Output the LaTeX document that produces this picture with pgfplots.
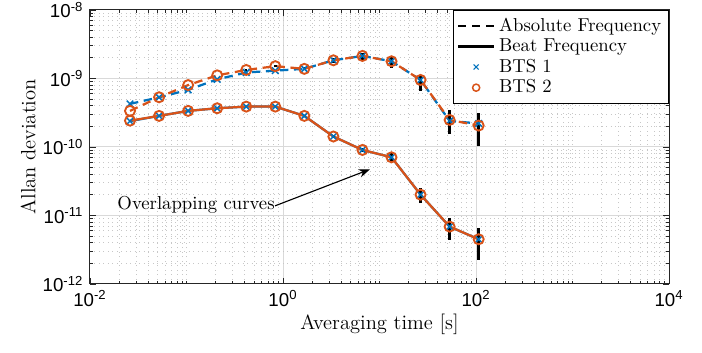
\documentclass[border=0pt]{standalone}
\usepackage{fontspec}
\usepackage{pgfplots}
\pgfplotsset{compat=1.18}
\usetikzlibrary{arrows.meta}
\newfontfamily\ticksf{Liberation Sans}
\definecolor{mblue}{rgb}{0,0.447,0.741}
\definecolor{morange}{rgb}{0.85,0.325,0.098}
\begin{document}
\begin{tikzpicture}
\begin{axis}[
  name=ax, scale only axis, width=309.6pt, height=146.5pt,
  xmode=log, ymode=log, xmin=1e-2, xmax=1e4, ymin=1e-12, ymax=1e-8,
  xtick={1e-2,1,1e2,1e4},
  xticklabels={10\textsuperscript{-2},10\textsuperscript{0},10\textsuperscript{2},10\textsuperscript{4}},
  ytick={1e-12,1e-11,1e-10,1e-9,1e-8},
  yticklabels={10\textsuperscript{-12},10\textsuperscript{-11},10\textsuperscript{-10},10\textsuperscript{-9},10\textsuperscript{-8}},
  minor xtick={0.02,0.03,0.04,0.05,0.06,0.07,0.08,0.09,0.1,0.2,0.3,0.4,0.5,0.6,0.7,0.8,0.9,2,3,4,5,6,7,8,9,10,20,30,40,50,60,70,80,90,200,300,400,500,600,700,800,900,1000,2000,3000,4000,5000,6000,7000,8000,9000},
  minor ytick={2e-12,3e-12,4e-12,5e-12,6e-12,7e-12,8e-12,9e-12,2e-11,3e-11,4e-11,5e-11,6e-11,7e-11,8e-11,9e-11,2e-10,3e-10,4e-10,5e-10,6e-10,7e-10,8e-10,9e-10,2e-9,3e-9,4e-9,5e-9,6e-9,7e-9,8e-9,9e-9},
  ticklabel style={font=\ticksf\fontsize{10}{12}\selectfont},
  grid=both,
  major grid style={black!15, line width=0.5pt},
  minor grid style={black!22, dotted, line width=0.4pt},
  axis line style={black!85, line width=0.5pt},
  major tick length=3pt, minor tick length=1.8pt,
  tick style={black!85, line width=0.4pt},
  xlabel={Averaging time [s]}, ylabel={Allan deviation},
  label style={font=\fontsize{11}{13}\selectfont},
  xlabel style={yshift=3pt},
  ylabel style={yshift=-3pt},
  legend style={at={(1,1)}, anchor=north east, font=\fontsize{10}{12}\selectfont,
    draw=black, line width=0.5pt, inner sep=2pt, row sep=-1.5pt},
  legend cell align=left,
  legend image code/.code={\draw[mark repeat=2,mark phase=2,#1] plot coordinates {(0cm,0cm) (0.34cm,0cm) (0.68cm,0cm)};},
]
\addlegendimage{black, line width=1.2pt, dash pattern=on 4.5pt off 3pt}
\addlegendentry{Absolute Frequency}
\addlegendimage{black, line width=1.2pt}
\addlegendentry{Beat Frequency}
\addlegendimage{only marks, mark=x, mblue, mark size=1.9pt, line width=0.6pt}
\addlegendentry{BTS 1}
\addlegendimage{only marks, mark=o, morange, mark size=1.9pt, line width=0.8pt}
\addlegendentry{BTS 2}

% Absolute frequency BTS 1
\addplot[forget plot, mblue, line width=1.2pt, dash pattern=on 4.5pt off 3pt, mark=x, mark size=2.5pt, mark options={solid, line width=0.8pt}] coordinates {
(0.026,4.25e-10) (0.052,5.3e-10) (0.104,6.8e-10) (0.208,9.7e-10) (0.416,1.22e-9) (0.832,1.30e-9) (1.664,1.38e-9) (3.328,1.84e-9) (6.656,2.13e-9) (13.312,1.78e-9) (26.624,9.5e-10) (53.248,2.4e-10) (106.5,2.2e-10)};
% Absolute frequency BTS 2
\addplot[forget plot, morange, line width=1.2pt, dash pattern=on 4.5pt off 3pt, mark=o, mark size=2.7pt, mark options={solid, line width=1pt}] coordinates {
(0.026,3.36e-10) (0.052,5.31e-10) (0.104,8.0e-10) (0.208,1.11e-9) (0.416,1.33e-9) (0.832,1.51e-9) (1.664,1.38e-9) (3.328,1.84e-9) (6.656,2.13e-9) (13.312,1.78e-9) (26.624,9.5e-10) (53.248,2.48e-10) (106.5,2.05e-10)};
% Beat frequency BTS 1
\addplot[forget plot, mblue, line width=1.2pt, mark=x, mark size=2.5pt, mark options={solid, line width=0.8pt}] coordinates {
(0.026,2.38e-10) (0.052,2.84e-10) (0.104,3.36e-10) (0.208,3.67e-10) (0.416,3.88e-10) (0.832,3.88e-10) (1.664,2.84e-10) (3.328,1.42e-10) (6.656,9.04e-11) (13.312,7.06e-11) (26.624,2.01e-11) (53.248,6.87e-12) (106.5,4.49e-12)};
% Beat frequency BTS 2
\addplot[forget plot, morange, line width=1.2pt, mark=o, mark size=2.7pt, mark options={solid, line width=1pt}] coordinates {
(0.026,2.42e-10) (0.052,2.84e-10) (0.104,3.36e-10) (0.208,3.67e-10) (0.416,3.88e-10) (0.832,3.88e-10) (1.664,2.84e-10) (3.328,1.42e-10) (6.656,9.04e-11) (13.312,7.06e-11) (26.624,2.01e-11) (53.248,6.87e-12) (106.5,4.49e-12)};
% error bars
\addplot[forget plot, black, line width=1.3pt, unbounded coords=jump] coordinates {
(0.416,1.28e-9) (0.416,1.38e-9) (0.416,nan)
(0.832,1.45e-9) (0.832,1.57e-9) (0.832,nan)
(1.664,1.31e-9) (1.664,1.45e-9) (1.664,nan)
(3.328,1.67e-9) (3.328,1.97e-9) (3.328,nan)
(6.656,1.82e-9) (6.656,2.38e-9) (6.656,nan)
(13.312,1.42e-9) (13.312,2.06e-9) (13.312,nan)
(26.624,6.57e-10) (26.624,1.12e-9) (26.624,nan)
(53.248,1.55e-10) (53.248,3.47e-10) (53.248,nan)
(106.5,1.03e-10) (106.5,3.13e-10) (106.5,nan)
(1.664,2.75e-10) (1.664,2.93e-10) (1.664,nan)
(3.328,1.35e-10) (3.328,1.49e-10) (3.328,nan)
(6.656,8.4e-11) (6.656,9.7e-11) (6.656,nan)
(13.312,5.78e-11) (13.312,8.55e-11) (13.312,nan)
(26.624,1.51e-11) (26.624,2.49e-11) (26.624,nan)
(53.248,4.39e-12) (53.248,9.1e-12) (53.248,nan)
(106.5,2.24e-12) (106.5,6.5e-12)};
\draw[black, line width=0.6pt, -{Stealth[length=6pt,width=4.5pt]}] (axis cs:0.826,1.38e-11) -- (axis cs:7.97,4.72e-11);
\node[anchor=base east, inner sep=0pt, yshift=-1.5pt, font=\fontsize{10}{12}\selectfont] at (axis cs:0.826,1.34e-11) {Overlapping curves};
\end{axis}
\pgfresetboundingbox
\path ([shift={(-48.1pt,-36.4pt)}]ax.south west) rectangle ([shift={(17.6pt,5.3pt)}]ax.north east);
\end{tikzpicture}
\end{document}
